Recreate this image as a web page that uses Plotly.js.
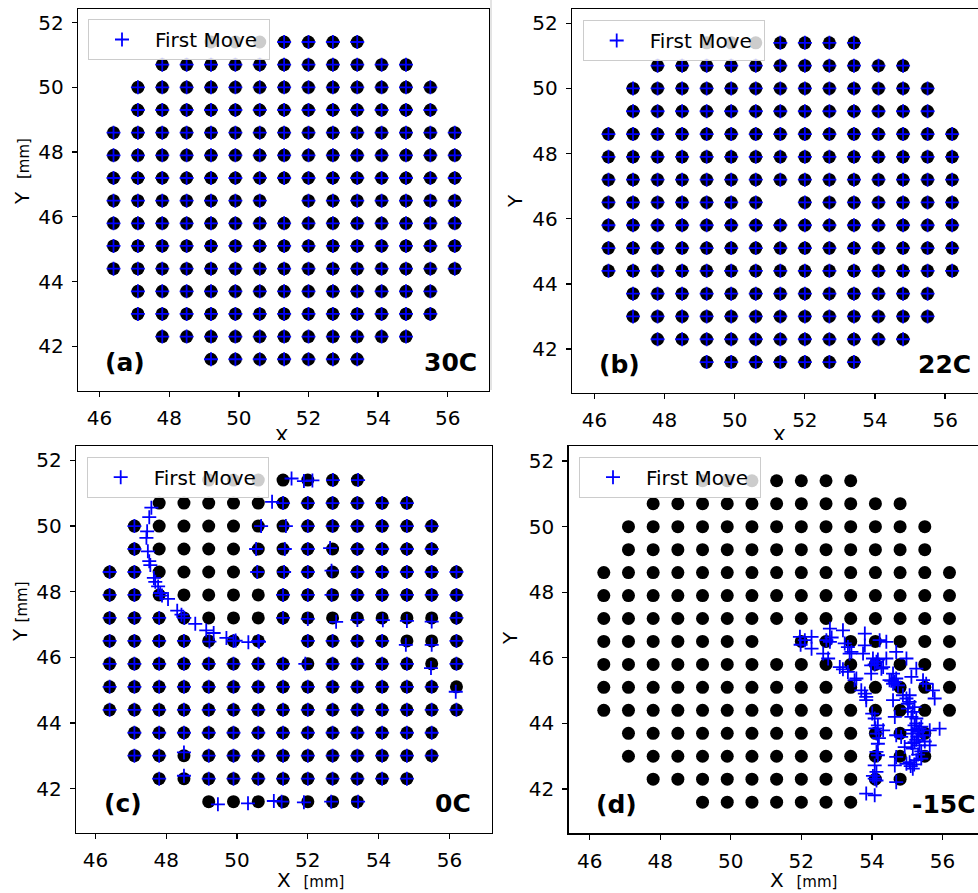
<!DOCTYPE html>
<html>
<head>
<meta charset="utf-8">
<script src="https://cdn.plot.ly/plotly-3.0.1.min.js"></script>
<style>
html,body{margin:0;padding:0;overflow:hidden;background:#fff;}
#plot{width:1000px;height:893px;}
</style>
</head>
<body>
<div id="plot"></div>
<script>
// ---------- data (mm) ----------
const xTicks = [46, 48, 50, 52, 54, 56];
const yTicks = [42, 44, 46, 48, 50, 52];

// pixel grid: one y per row, x positions of the dots in that row
const dotRowY = [51.4, 50.7, 50.0, 49.3, 48.6, 47.9, 47.2, 46.5, 45.8, 45.1, 44.4, 43.7, 43.0, 42.3, 41.6];
const dotRowX = [
  [49.2, 49.9, 50.6, 51.3, 52.0, 52.7, 53.4],
  [47.8, 48.5, 49.2, 49.9, 50.6, 51.3, 52.0, 52.7, 53.4, 54.1, 54.8],
  [47.1, 47.8, 48.5, 49.2, 49.9, 50.6, 51.3, 52.0, 52.7, 53.4, 54.1, 54.8, 55.5],
  [47.1, 47.8, 48.5, 49.2, 49.9, 50.6, 51.3, 52.0, 52.7, 53.4, 54.1, 54.8, 55.5],
  [46.4, 47.1, 47.8, 48.5, 49.2, 49.9, 50.6, 51.3, 52.0, 52.7, 53.4, 54.1, 54.8, 55.5, 56.2],
  [46.4, 47.1, 47.8, 48.5, 49.2, 49.9, 50.6, 51.3, 52.0, 52.7, 53.4, 54.1, 54.8, 55.5, 56.2],
  [46.4, 47.1, 47.8, 48.5, 49.2, 49.9, 50.6, 51.3, 52.0, 52.7, 53.4, 54.1, 54.8, 55.5, 56.2],
  [46.4, 47.1, 47.8, 48.5, 49.2, 49.9, 50.6, 52.0, 52.7, 53.4, 54.1, 54.8, 55.5, 56.2],
  [46.4, 47.1, 47.8, 48.5, 49.2, 49.9, 50.6, 51.3, 52.0, 52.7, 53.4, 54.1, 54.8, 55.5, 56.2],
  [46.4, 47.1, 47.8, 48.5, 49.2, 49.9, 50.6, 51.3, 52.0, 52.7, 53.4, 54.1, 54.8, 55.5, 56.2],
  [46.4, 47.1, 47.8, 48.5, 49.2, 49.9, 50.6, 51.3, 52.0, 52.7, 53.4, 54.1, 54.8, 55.5, 56.2],
  [47.1, 47.8, 48.5, 49.2, 49.9, 50.6, 51.3, 52.0, 52.7, 53.4, 54.1, 54.8, 55.5],
  [47.1, 47.8, 48.5, 49.2, 49.9, 50.6, 51.3, 52.0, 52.7, 53.4, 54.1, 54.8, 55.5],
  [47.8, 48.5, 49.2, 49.9, 50.6, 51.3, 52.0, 52.7, 53.4, 54.1, 54.8],
  [49.2, 49.9, 50.6, 51.3, 52.0, 52.7, 53.4]
];

// first-move positions at 30C and 22C (on the pixels), per row
const moveRowXAB = [
  [51.3, 52.0, 52.7, 53.4],
  [47.8, 48.5, 49.2, 49.9, 50.6, 51.3, 52.0, 52.7, 53.4, 54.1, 54.8],
  [47.1, 47.8, 48.5, 49.2, 49.9, 50.6, 51.3, 52.0, 52.7, 53.4, 54.1, 54.8, 55.5],
  [47.1, 47.8, 48.5, 49.2, 49.9, 50.6, 51.3, 52.0, 52.7, 53.4, 54.1, 54.8, 55.5],
  [46.4, 47.1, 47.8, 48.5, 49.2, 49.9, 50.6, 51.3, 52.0, 52.7, 53.4, 54.1, 54.8, 55.5, 56.2],
  [46.4, 47.1, 47.8, 48.5, 49.2, 49.9, 50.6, 51.3, 52.0, 52.7, 53.4, 54.1, 54.8, 55.5, 56.2],
  [46.4, 47.1, 47.8, 48.5, 49.2, 49.9, 50.6, 51.3, 52.0, 52.7, 53.4, 54.1, 54.8, 55.5, 56.2],
  [46.4, 47.1, 47.8, 48.5, 49.2, 49.9, 50.6, 52.0, 52.7, 53.4, 54.1, 54.8, 55.5, 56.2],
  [46.4, 47.1, 47.8, 48.5, 49.2, 49.9, 50.6, 51.3, 52.0, 52.7, 53.4, 54.1, 54.8, 55.5, 56.2],
  [46.4, 47.1, 47.8, 48.5, 49.2, 49.9, 50.6, 51.3, 52.0, 52.7, 53.4, 54.1, 54.8, 55.5, 56.2],
  [46.4, 47.1, 47.8, 48.5, 49.2, 49.9, 50.6, 51.3, 52.0, 52.7, 53.4, 54.1, 54.8, 55.5, 56.2],
  [47.1, 47.8, 48.5, 49.2, 49.9, 50.6, 51.3, 52.0, 52.7, 53.4, 54.1, 54.8, 55.5],
  [47.1, 47.8, 48.5, 49.2, 49.9, 50.6, 51.3, 52.0, 52.7, 53.4, 54.1, 54.8, 55.5],
  [47.8, 48.5, 49.2, 49.9, 50.6, 51.3, 52.0, 52.7, 53.4, 54.1, 54.8],
  [49.2, 49.9, 50.6, 51.3, 52.0, 52.7, 53.4]
];

// first-move positions at 0C
const moveCX = [
  51.54, 51.89, 52.13, 52.71, 53.42,
  50.99, 51.3, 52.0, 52.7, 53.4, 54.1, 54.8,
  47.1, 50.68, 51.38, 52.0, 52.7, 53.4, 54.1, 54.8, 55.5,
  47.1, 50.54, 51.35, 52.0, 52.63, 53.4, 54.1, 54.8, 55.5,
  46.4, 47.1, 50.57, 51.33, 52.0, 52.67, 53.4, 54.1, 54.8, 55.5, 56.2,
  46.4, 47.1, 51.3, 52.0, 52.67, 53.4, 54.1, 54.8, 55.5, 56.2,
  46.4, 47.1, 47.8, 51.3, 52.0, 52.8, 53.4, 54.12, 54.8, 55.5, 56.2,
  46.4, 47.1, 47.8, 48.5, 49.22, 49.9, 50.6, 52.0, 52.7, 53.4, 54.1, 54.77, 55.5, 56.2,
  46.4, 47.1, 47.8, 48.5, 49.2, 49.9, 50.6, 51.3, 51.93, 52.7, 53.4, 54.1, 54.8, 55.48, 56.2,
  46.4, 47.1, 47.8, 48.5, 49.2, 49.9, 50.6, 51.3, 52.0, 52.7, 53.4, 54.1, 54.8, 55.5, 56.18,
  46.4, 47.1, 47.8, 48.5, 49.2, 49.9, 50.6, 51.3, 52.0, 52.7, 53.4, 54.1, 54.8, 55.5, 56.2,
  47.1, 47.8, 48.5, 49.2, 49.9, 50.6, 51.3, 52.0, 52.7, 53.4, 54.1, 54.8, 55.5,
  47.1, 47.8, 48.5, 49.2, 49.9, 50.6, 51.3, 52.0, 52.7, 53.4, 54.1, 54.8, 55.5,
  47.8, 48.5, 49.2, 49.9, 50.6, 51.3, 52.0, 52.7, 53.4, 54.1, 54.8,
  49.46, 50.31, 51.04, 51.26, 51.89, 52.66, 53.42,
  47.58, 47.52, 47.46, 47.44, 47.48, 47.52, 47.55, 47.65, 47.69, 47.77, 47.83, 47.88,
  48.05, 48.31, 48.43, 48.51, 48.82, 49.13, 49.34, 49.70, 49.96, 50.32, 50.62
];
const moveCY = [
  51.45, 51.37, 51.39, 51.40, 51.40,
  50.74, 50.7, 50.7, 50.7, 50.7, 50.7, 50.7,
  50.0, 50.0, 50.0, 50.0, 50.0, 50.0, 50.0, 50.0, 50.0,
  49.3, 49.3, 49.3, 49.3, 49.33, 49.3, 49.3, 49.3, 49.3,
  48.6, 48.6, 48.6, 48.6, 48.6, 48.64, 48.6, 48.6, 48.6, 48.6, 48.6,
  47.9, 47.9, 47.9, 47.9, 47.9, 47.9, 47.9, 47.9, 47.9, 47.9,
  47.2, 47.2, 47.2, 47.2, 47.17, 47.08, 47.14, 47.13, 47.11, 47.09, 47.2,
  46.5, 46.5, 46.5, 46.5, 46.48, 46.5, 46.5, 46.5, 46.5, 46.5, 46.5, 46.38, 46.38, 46.5,
  45.8, 45.8, 45.8, 45.8, 45.8, 45.8, 45.8, 45.8, 45.8, 45.8, 45.8, 45.8, 45.8, 45.67, 45.8,
  45.1, 45.1, 45.1, 45.1, 45.1, 45.1, 45.1, 45.1, 45.1, 45.1, 45.1, 45.1, 45.1, 45.1, 44.95,
  44.4, 44.4, 44.4, 44.4, 44.4, 44.4, 44.4, 44.4, 44.4, 44.4, 44.4, 44.4, 44.4, 44.4, 44.4,
  43.7, 43.7, 43.7, 43.7, 43.7, 43.7, 43.7, 43.7, 43.7, 43.7, 43.7, 43.7, 43.7,
  43.0, 43.0, 43.1, 43.0, 43.0, 43.0, 43.0, 43.0, 43.0, 43.0, 43.0, 43.0, 43.0,
  42.3, 42.39, 42.3, 42.3, 42.3, 42.3, 42.3, 42.3, 42.3, 42.3, 42.3,
  41.52, 41.55, 41.62, 41.60, 41.58, 41.60, 41.60,
  50.56, 50.27, 49.84, 49.64, 49.23, 48.93, 48.81, 48.42, 48.30, 48.16, 47.96, 47.88,
  47.78, 47.42, 47.30, 47.20, 47.02, 46.82, 46.74, 46.59, 46.51, 46.46, 46.47
];

// first-move positions at -15C
const moveDX = [
  51.96, 51.98, 52.10, 52.29, 52.29, 52.62, 52.71, 52.81, 52.86, 52.81, 52.76, 53.18,
  53.23, 53.32, 53.42, 53.37, 53.80, 53.80, 53.75, 54.22, 54.41, 54.69, 54.98, 54.41,
  53.98, 54.13, 54.03, 54.27, 53.98, 54.32, 54.08, 54.17,
  53.09, 53.18, 53.32, 53.51, 53.56, 53.70, 53.80, 53.84, 53.84,
  54.50, 54.65, 54.74, 54.60, 54.69, 54.55, 54.60,
  55.12, 55.26, 55.45, 55.54, 55.73, 55.78,
  54.88, 54.98, 55.07, 55.02, 55.16, 55.12, 55.26, 55.21, 55.35, 55.16, 55.31, 55.21, 55.35,
  55.16, 55.07, 55.02, 55.21, 55.26, 55.12, 55.31, 55.26, 55.12, 55.40, 55.45, 55.40, 55.31,
  54.60, 54.65, 54.69, 54.83, 55.64, 55.92, 55.64, 55.50,
  54.01, 54.08, 54.17, 54.32, 54.13, 54.17, 54.13, 54.17, 54.08, 54.13, 54.08, 54.13, 54.03,
  53.84, 54.08, 54.20, 54.10,
  54.69, 54.65, 54.69, 54.93, 54.98, 55.07, 55.16, 55.26, 55.40, 55.10, 55.20
];
const moveDY = [
  46.64, 46.40, 46.54, 46.64, 46.28, 46.13, 46.54, 46.49, 46.62, 46.89, 45.98, 46.84,
  46.44, 46.33, 46.18, 46.13, 46.74, 46.38, 46.13, 46.54, 46.49, 46.18, 45.98, 45.98,
  45.77, 45.88, 45.98, 45.67, 45.52, 45.72, 45.80, 45.95,
  45.72, 45.65, 45.57, 45.32, 45.37, 45.01, 44.91, 44.81, 44.71,
  45.32, 45.27, 45.16, 45.52, 45.37, 45.30, 45.21,
  45.42, 45.67, 45.32, 45.21, 45.01, 44.76,
  44.86, 44.76, 44.66, 44.45, 44.35, 44.20, 44.15, 43.94, 43.84, 43.69, 43.59, 43.43, 43.33,
  43.23, 44.86, 44.60, 44.50, 44.00, 43.80, 43.74, 43.50, 43.40, 43.90, 43.64, 43.15, 43.05,
  44.71, 44.20, 43.64, 43.59, 43.79, 43.84, 43.33, 43.45,
  44.30, 44.15, 43.94, 43.79, 43.69, 43.38, 43.13, 43.03, 42.72, 42.52, 42.32, 42.26, 42.40,
  41.86, 41.81, 43.55, 43.85,
  42.98, 42.72, 42.21, 43.28, 42.77, 42.82, 42.62, 42.88, 42.93, 42.70, 42.75
];

const panelTags = ['(a)', '(b)', '(c)', '(d)'];
const panelTemps = ['30C', '22C', '0C', '-15C'];
const legendName = 'First Move';

// ---------- build ----------
function flatten(rowsX, rowsY) {
  const xs = [], ys = [];
  rowsX.forEach((row, i) => row.forEach(v => { xs.push(v); ys.push(rowsY[i]); }));
  return {x: xs, y: ys};
}
const dots = flatten(dotRowX, dotRowY);
const movesAB = flatten(moveRowXAB, dotRowY);

const BLUE = '#0000ff';
const FONT = 'DejaVu Sans, sans-serif';

const moveSets = [movesAB, movesAB, {x: moveCX, y: moveCY}, {x: moveDX, y: moveDY}];
const traces = [];
const axisIds = ['', '2', '3', '4'];
axisIds.forEach((id, i) => {
  traces.push({
    type: 'scatter', mode: 'markers', x: dots.x, y: dots.y,
    xaxis: 'x' + id, yaxis: 'y' + id, showlegend: false, hoverinfo: 'skip',
    marker: {color: '#000000', size: 13, line: {width: 0}}
  });
  traces.push({
    type: 'scatter', mode: 'markers', x: moveSets[i].x, y: moveSets[i].y,
    xaxis: 'x' + id, yaxis: 'y' + id, name: legendName + '\u00a0', showlegend: true,
    legend: 'legend' + id,
    marker: {symbol: 'cross-thin', size: 10, color: BLUE, line: {color: BLUE, width: 1.8}}
  });
});
// top panels' x-axis titles, mostly hidden under the lower panels
traces.push({
  type: 'scatter', mode: 'text', x: [281.7, 779], y: [2, 2], text: ['X', 'X'],
  xaxis: 'x5', yaxis: 'y5', showlegend: false, hoverinfo: 'skip', cliponaxis: true,
  textposition: 'middle center', textfont: {family: FONT, size: 20, color: '#000'}
});

const H = 893, W = 1000;
function axis(domain, range, vals) {
  return {
    domain: domain, range: range, tickvals: vals, ticktext: vals.map(String),
    showline: true, mirror: true, linecolor: '#000', linewidth: 1.3,
    ticks: 'outside', ticklen: 5, tickwidth: 1.3, tickcolor: '#000',
    ticklabelstandoff: 4,
    tickfont: {family: FONT, size: 20, color: '#000'},
    showgrid: false, zeroline: false, fixedrange: true
  };
}
function py(px) { return 1 - px / H; }

function legendAt(xpx, ypx) {
  return {
    x: xpx / W, y: py(ypx), xanchor: 'left', yanchor: 'top',
    bgcolor: 'rgba(255,255,255,0.8)', bordercolor: '#cccccc', borderwidth: 1,
    font: {family: FONT, size: 20, color: '#000'}, itemwidth: 56
  };
}

const annotations = [];
const tagStyle = {family: 'DejaVu Sans, sans-serif', size: 25, color: '#000', weight: 'bold'};
axisIds.forEach((id, i) => {
  annotations.push({
    xref: 'x' + id + ' domain', yref: 'y' + id + ' domain', x: 0.062, y: 0.075,
    xanchor: 'left', yanchor: 'middle', showarrow: false,
    text: '<b>' + panelTags[i] + '</b>', font: tagStyle
  });
  annotations.push({
    xref: 'x' + id + ' domain', yref: 'y' + id + ' domain', x: 0.907, y: 0.075,
    xanchor: 'center', yanchor: 'middle', showarrow: false,
    text: '<b>' + panelTemps[i] + '</b>', font: tagStyle
  });
});
const titleFont = {family: FONT, size: 20, color: '#000'};
const unit = "<span style='font-size:15px'>[mm]</span>";
annotations.push(
  {xref: 'paper', yref: 'paper', x: 22 / W, y: py(172), textangle: -90, showarrow: false,
   xanchor: 'center', yanchor: 'middle', text: 'Y\u00a0\u00a0' + unit, font: titleFont},
  {xref: 'paper', yref: 'paper', x: 515 / W, y: py(201), textangle: -90, showarrow: false,
   xanchor: 'center', yanchor: 'middle', text: 'Y', font: titleFont},
  {xref: 'paper', yref: 'paper', x: 20 / W, y: py(612), textangle: -90, showarrow: false,
   xanchor: 'center', yanchor: 'middle', text: 'Y\u00a0' + unit, font: titleFont},
  {xref: 'paper', yref: 'paper', x: 510 / W, y: py(638), textangle: -90, showarrow: false,
   xanchor: 'center', yanchor: 'middle', text: 'Y', font: titleFont},
  {xref: 'paper', yref: 'paper', x: 310.7 / W, y: py(880), showarrow: false,
   xanchor: 'center', yanchor: 'middle', text: 'X\u00a0\u00a0' + unit, font: titleFont},
  {xref: 'paper', yref: 'paper', x: 803.5 / W, y: py(880), showarrow: false,
   xanchor: 'center', yanchor: 'middle', text: 'X\u00a0\u00a0' + unit, font: titleFont}
);

const layout = {
  width: W, height: H, margin: {l: 0, r: 0, t: 0, b: 0},
  paper_bgcolor: '#fff', plot_bgcolor: '#fff', showlegend: true,
  xaxis: axis([78 / W, 488.5 / W], [45.38, 57.17], xTicks),
  yaxis: axis([py(391), py(9)], [40.62, 52.42], yTicks),
  xaxis2: axis([572 / W, 983 / W], [45.36, 57.08], xTicks),
  yaxis2: axis([py(393), py(9)], [40.65, 52.44], yTicks),
  xaxis3: axis([76 / W, 491.5 / W], [45.45, 57.19], xTicks),
  yaxis3: axis([py(832.5), py(446)], [40.66, 52.44], yTicks),
  xaxis4: axis([568.5 / W, 983 / W], [45.40, 57.15], xTicks),
  yaxis4: axis([py(833.3), py(446)], [40.65, 52.46], yTicks),
  xaxis5: {domain: [0, 1], range: [0, W], visible: false, fixedrange: true},
  yaxis5: {domain: [py(440), py(425)], range: [0, 15], visible: false, fixedrange: true, anchor: 'x5'},
  legend: legendAt(88, 19),
  legend2: legendAt(582.7, 20),
  legend3: legendAt(86.7, 456.7),
  legend4: legendAt(579, 456.7),
  annotations: annotations,
  shapes: [
    {type: 'line', xref: 'paper', yref: 'paper', x0: 491 / W, x1: 491 / W, y0: py(390), y1: 1,
     line: {color: '#c8c8c8', width: 1}}
  ]
};
layout.xaxis.anchor = 'y'; layout.yaxis.anchor = 'x';
layout.xaxis2.anchor = 'y2'; layout.yaxis2.anchor = 'x2';
layout.xaxis3.anchor = 'y3'; layout.yaxis3.anchor = 'x3';
layout.xaxis4.anchor = 'y4'; layout.yaxis4.anchor = 'x4';
layout.xaxis5.anchor = 'y5';

Plotly.newPlot('plot', traces, layout, {displayModeBar: false, staticPlot: true});
</script>
</body>
</html>
